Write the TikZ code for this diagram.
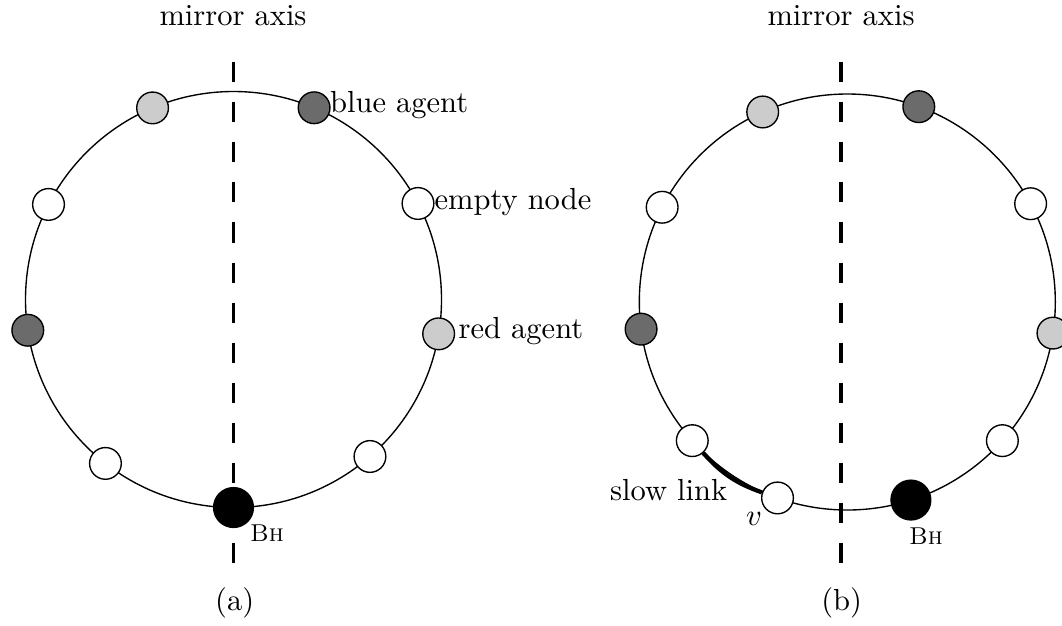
\documentclass[tikz,border=0pt]{standalone}
\usetikzlibrary{calc}
\begin{document}
\begin{tikzpicture}[x=0.3279pt, y=-0.3279pt,
  ring/.style={line width=0.45pt},
  axisline/.style={line width=1.1pt, dash pattern=on 6.6pt off 6.55pt},
  agent/.style={circle, draw, line width=0.45pt, inner sep=0pt, minimum size=10.4pt},
  hole/.style={circle, draw, fill=black, inner sep=0pt, minimum size=13.1pt},
  emptyn/.style={agent, fill=white},
  redn/.style={agent, fill=black!20},
  bluen/.style={agent, fill=black!58},
  slowlink/.style={line width=1.4pt},
  lbl/.style={inner sep=0pt}]
\useasboundingbox (0,0) rectangle (1062,625);
\clip (0,0) rectangle (1062,625);

% ---------- (a) ----------
\coordinate (ca) at (233.5,299.5);
\coordinate (ta) at (233.3,62);
\coordinate (ba) at (233.3,566);
\draw[axisline] (ta) -- (ba);
\draw[ring] (ca) circle[radius=208];
\node[hole]   (a0) at ($(ca)+(-270:208)$) {};
\node[emptyn] (a1) at ($(ca)+(-232:208)$) {};
\node[bluen]  (a2) at ($(ca)+(-188.5:208)$) {};
\node[emptyn] (a3) at ($(ca)+(-152.8:208)$) {};
\node[redn]   (a4) at ($(ca)+(-112.9:208)$) {};
\node[bluen]  (a5) at ($(ca)+(-67.2:208)$) {};
\node[emptyn] (a6) at ($(ca)+(-27.5:208)$) {};
\node[redn]   (a7) at ($(ca)+(-350.5:208)$) {};
\node[emptyn] (a8) at ($(ca)+(-311:208)$) {};

\node[lbl, anchor=base] (ma) at (233,25.7) {mirror axis};
\node[lbl, anchor=base west] (lblue) at (329.5,112) {blue agent};
\node[lbl, anchor=base west] (lempty) at (434,209) {empty node};
\node[lbl, anchor=base west] (lred) at (458,338) {red agent};
\node[lbl, anchor=base west, font=\footnotesize] (bha) at (249.5,541) {\textsc{Bh}};
\node[lbl, anchor=base] (capa) at (234.7,610) {(a)};

% ---------- (b) ----------
\coordinate (cb) at (847.3,302);
\coordinate (tb) at (841,62);
\coordinate (bb) at (841,566);
\draw[axisline] (tb) -- (bb);
\draw[ring] (cb) circle[radius=208];
\node[bluen]  (b4) at ($(cb)+(-69.9:208)$) {};
\node[redn]   (b5) at ($(cb)+(-114:208)$) {};
\node[emptyn] (b6) at ($(cb)+(-152.9:208)$) {};
\node[bluen]  (b7) at ($(cb)+(-187.5:208)$) {};
\node[emptyn] (b8) at ($(cb)+(-221.8:208)$) {};
\node[emptyn] (bv) at ($(cb)+(-250.4:208)$) {};
\node[hole]   (b0) at ($(cb)+(-287.8:208)$) {};
\node[emptyn] (b1) at ($(cb)+(-318.2:208)$) {};
\node[redn]   (b2) at ($(cb)+(-351.4:208)$) {};
\node[emptyn] (b3) at ($(cb)+(-28.2:208)$) {};
\draw[slowlink] (b8) to[bend right=14.3] (bv);

\node[lbl, anchor=base] (mb) at (841,25.7) {mirror axis};
\node[lbl, anchor=base west] (lslow) at (609.5,500) {slow link};
\node[lbl, anchor=base] (lv) at (754,525) {$v$};
\node[lbl, anchor=base west, font=\footnotesize] (bhb) at (908.5,544) {\textsc{Bh}};
\node[lbl, anchor=base] (capb) at (841.7,610) {(b)};
\end{tikzpicture}
\end{document}
